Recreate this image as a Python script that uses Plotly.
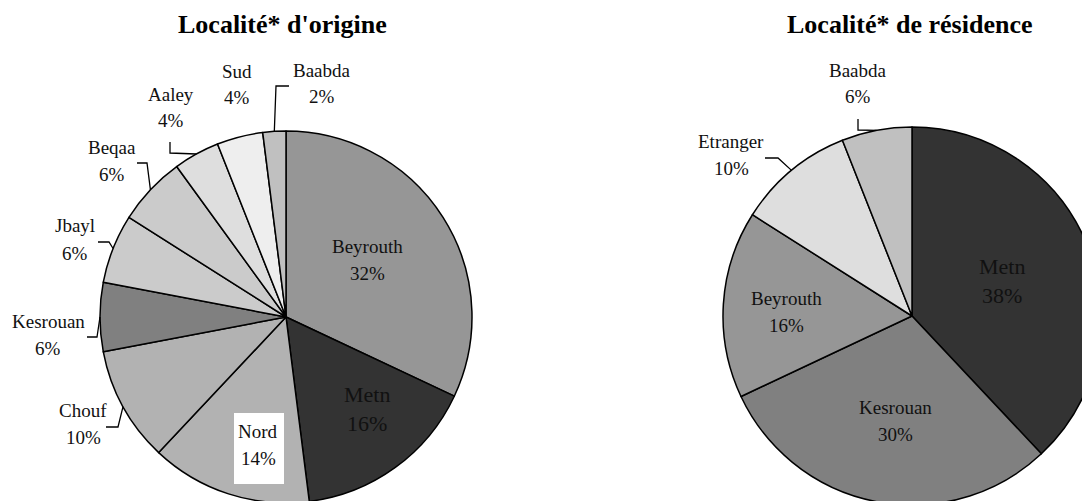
import math
import plotly.graph_objects as go

# ---- data ----
origin_labels = ["Beyrouth", "Metn", "Nord", "Chouf", "Kesrouan", "Jbayl", "Beqaa", "Aaley", "Sud", "Baabda"]
origin_values = [32, 16, 14, 10, 6, 6, 6, 4, 4, 2]
origin_colors = ["#969696", "#333333", "#b2b2b2", "#b2b2b2", "#808080", "#cbcbcb", "#cbcbcb", "#dedede", "#eeeeee", "#c0c0c0"]

res_labels = ["Metn", "Kesrouan", "Beyrouth", "Etranger", "Baabda"]
res_values = [38, 30, 16, 10, 6]
res_colors = ["#333333", "#808080", "#969696", "#dedede", "#c0c0c0"]

title_left = "Localité* d'origine"
title_right = "Localité* de résidence"

# ---- layout helpers (page pixels -> paper), page has 8px body margin ----
W, H = 1100, 505
O = 8

def px(x):
    return (x - O) / W

def py(y):
    return 1 - (y - O) / H

# pie geometry in page pixels: center x, center y, radius
gL = (286, 317, 186)
gR = (912, 316, 189)

def domain(g):
    cx, cy, r = g
    return dict(x=[px(cx - r), px(cx + r)], y=[py(cy + r), py(cy - r)])

def edge_point(values, idx, g):
    cx, cy, r = g
    tot = sum(values)
    mid = (sum(values[:idx]) + values[idx] / 2) / tot
    ang = 2 * math.pi * mid
    return cx + r * math.sin(ang), cy - r * math.cos(ang)

fig = go.Figure()
fig.add_trace(go.Pie(
    labels=origin_labels, values=origin_values, sort=False, direction="clockwise", rotation=0,
    marker=dict(colors=origin_colors, line=dict(color="black", width=1.5)),
    textinfo="none", hoverinfo="label+percent", domain=domain(gL), showlegend=False,
))
fig.add_trace(go.Pie(
    labels=res_labels, values=res_values, sort=False, direction="clockwise", rotation=0,
    marker=dict(colors=res_colors, line=dict(color="black", width=1.5)),
    textinfo="none", hoverinfo="label+percent", domain=domain(gR), showlegend=False,
))

FONT = "Liberation Serif, Times New Roman, serif"
annotations = []
shapes = []

def label(name, pct, x, y, size=19, dy=27):
    for t, yy in [(name, y), (pct, y + dy)]:
        annotations.append(dict(x=px(x), y=py(yy), xref="paper", yref="paper", text=t, showarrow=False,
                                xanchor="center", yanchor="middle",
                                font=dict(family=FONT, size=size, color="#111")))

# label positions (page pixels)
left_pos = {
    "Beyrouth": (367, 246), "Metn": (367, 394), "Nord": (258, 431), "Chouf": (83, 410),
    "Kesrouan": (48, 321), "Jbayl": (75, 226), "Beqaa": (112, 147), "Aaley": (171, 94),
    "Sud": (237, 71), "Baabda": (322, 70),
}
right_pos = {
    "Metn": (1002, 266), "Kesrouan": (895, 407), "Beyrouth": (786, 298),
    "Etranger": (731, 141), "Baabda": (858, 70),
}
# leader elbows (page pixels): label end, elbow
left_leaders = {
    "Baabda": [(289, 86), (276, 86)],
    "Aaley": [(170, 142), (170, 153)],
    "Beqaa": [(137, 163), (147, 163)],
    "Jbayl": [(98, 242), (109, 242)],
    "Kesrouan": [(87, 337), (97, 337)],
    "Chouf": [(106, 427), (118, 427)],
}
right_leaders = {
    "Baabda": [(858, 119), (858, 130)],
    "Etranger": [(765, 158), (778, 158)],
}

# Nord white box
shapes.append(dict(type="rect", xref="paper", yref="paper", x0=px(234), x1=px(284), y0=py(484), y1=py(413),
                   fillcolor="white", line=dict(width=0), layer="above"))

def leaders(labels, values, pos, leads, g):
    for i, (n, v) in enumerate(zip(labels, values)):
        x, y = pos[n]
        big = n == "Metn"
        label(n, f"{v}%", x, y, size=22 if big else 19, dy=29 if big else 27)
        if n in leads:
            pts = leads[n] + [edge_point(values, i, g)]
            path = "M " + " L ".join(f"{px(a)},{py(b)}" for a, b in pts)
            shapes.append(dict(type="path", xref="paper", yref="paper", path=path,
                               line=dict(color="black", width=1.3), layer="above"))

leaders(origin_labels, origin_values, left_pos, left_leaders, gL)
leaders(res_labels, res_values, right_pos, right_leaders, gR)

for t, x in [(title_left, 282), (title_right, 910)]:
    annotations.append(dict(x=px(x), y=py(24), xref="paper", yref="paper", text=f"<b>{t}</b>", showarrow=False,
                            xanchor="center", yanchor="middle", font=dict(family=FONT, size=26, color="black")))

fig.update_layout(
    width=W, height=H, margin=dict(l=0, r=0, t=0, b=0),
    paper_bgcolor="white", plot_bgcolor="white",
    annotations=annotations, shapes=shapes,
)

fig.write_html("out.html")
